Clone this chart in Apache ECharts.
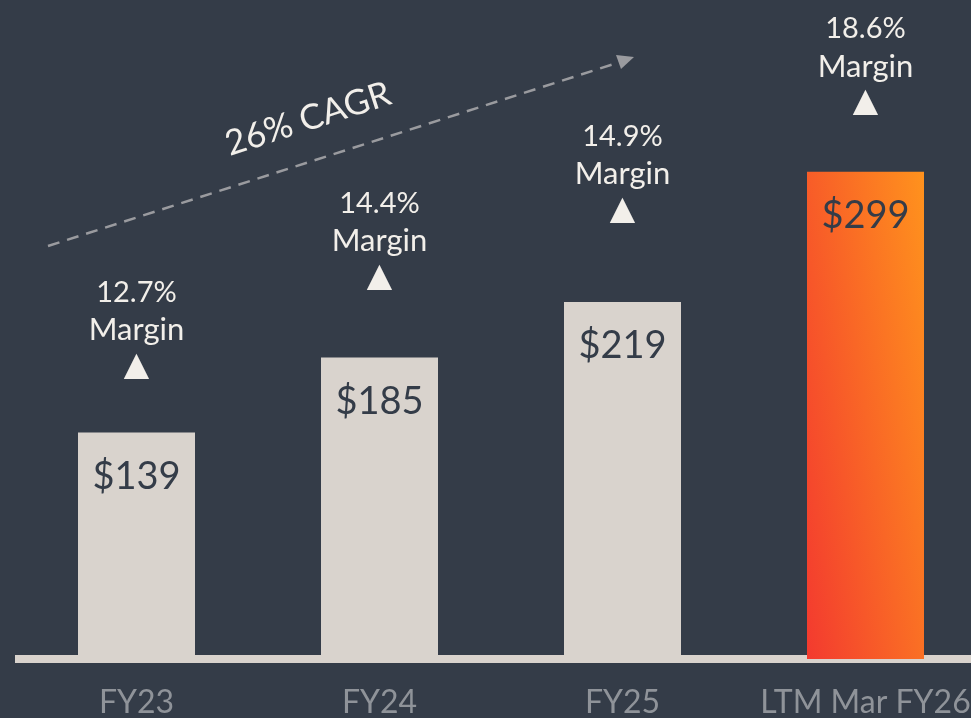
<!DOCTYPE html>
<html>
<head>
<meta charset="utf-8">
<script src="https://cdn.jsdelivr.net/npm/echarts@6/dist/echarts.min.js"></script>
<style>
  html, body { margin: 0; padding: 0; background: #343c48; }
  #main { width: 971px; height: 718px; }
</style>
</head>
<body>
<div id="main"></div>
<script>
  // chart data
  var categories = ['FY23', 'FY24', 'FY25', 'LTM Mar FY26'];
  var revenue = [139, 185, 219, 299];
  var margins = ['12.7%', '14.4%', '14.9%', '18.6%'];
  var cagrText = '26% CAGR';

  // gap between the margin note and the bar top (px)
  var noteGap = [49, 63, 75, 52];

  var bg = '#343c48',
    barColor = '#d9d3cd',
    light = '#f2efea',
    font = 'Lato';

  // mostly left-to-right, a little bottom-to-top
  var hotBar = {
    type: 'linear', x: 0, y: 1, x2: 1.62, y2: 0.94,
    colorStops: [
      { offset: 0, color: '#f33a2f' },
      { offset: 1, color: '#ff931d' }
    ]
  };

  var myChart = echarts.init(document.getElementById('main'));

  var option = {
    backgroundColor: bg,
    animation: false,
    grid: {
      left: 15, right: -16, top: 7, bottom: 59,
      containLabel: false,
      outerBoundsMode: 'none'
    },
    xAxis: {
      type: 'category',
      data: categories,
      offset: 4,
      axisLine: { show: true, lineStyle: { color: barColor, width: 8, cap: 'butt' } },
      axisTick: { show: false },
      axisLabel: {
        interval: 0,
        color: '#8f9399',
        fontFamily: font,
        fontSize: 32,
        margin: 24
      }
    },
    yAxis: {
      type: 'value',
      min: 0,
      max: 400,
      show: false,
      splitLine: { show: false }
    },
    series: [
      {
        type: 'bar',
        barWidth: 117,
        data: revenue.map(function (v, i) {
          return {
            value: v,
            itemStyle: { color: i === revenue.length - 1 ? hotBar : barColor }
          };
        }),
        label: {
          show: true,
          position: 'insideTop',
          distance: 25,
          color: bg,
          fontFamily: font,
          fontSize: 38,
          formatter: function (p) { return '$' + p.value; }
        }
      },
      {
        // transparent twin carrying the margin notes
        type: 'bar',
        barWidth: 117,
        barGap: '-100%',
        silent: true,
        itemStyle: { color: 'transparent' },
        data: revenue.map(function (v, i) {
          return { value: v, label: { distance: noteGap[i] } };
        }),
        label: {
          show: true,
          position: 'top',
          formatter: function (p) {
            return '{p|' + margins[p.dataIndex] + '}\n{m|Margin}\n{t|▲}';
          },
          rich: {
            p: { color: light, fontFamily: font, fontSize: 29, lineHeight: 37, align: 'center' },
            m: { color: light, fontFamily: font, fontSize: 31, lineHeight: 38, align: 'center' },
            t: { color: light, fontFamily: 'DejaVu Sans', fontSize: 33, lineHeight: 34, align: 'center' }
          }
        }
      }
    ],
    graphic: [
      {
        type: 'line',
        shape: { x1: 48, y1: 246, x2: 620, y2: 62 },
        style: { stroke: '#9a9b9f', lineWidth: 2.5, lineDash: [12, 8] }
      },
      {
        type: 'polygon',
        shape: { points: [[634, 57], [621, 69], [616, 55]] },
        style: { fill: '#9a9b9f' }
      },
      {
        type: 'text',
        x: 308,
        y: 119,
        rotation: Math.atan2(184, 572),
        style: {
          text: cagrText,
          fill: light,
          font: '35px ' + font,
          align: 'center',
          verticalAlign: 'middle'
        }
      }
    ]
  };

  myChart.setOption(option);

  window.addEventListener('resize', function () {
    myChart.resize();
  });
</script>
</body>
</html>
